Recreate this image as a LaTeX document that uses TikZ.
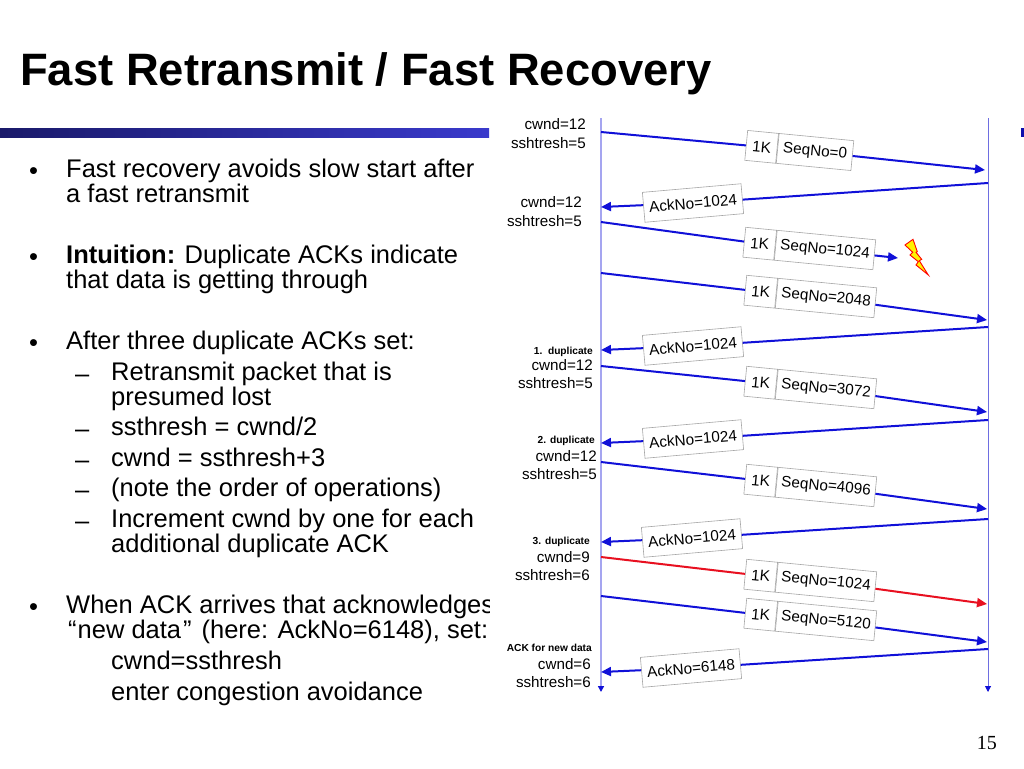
\documentclass[tikz,border=0pt]{standalone}
\usepackage{xcolor}
\usepackage{fontspec}
\usepackage{tikz}
\setmainfont{Liberation Sans}
\newfontfamily\serfont{Liberation Serif}
\usetikzlibrary{arrows.meta}
\definecolor{msgblue}{RGB}{16, 16, 216}
\definecolor{msgred}{RGB}{232, 16, 32}
\definecolor{leftline}{RGB}{165, 165, 240}
\definecolor{rightline}{RGB}{110, 110, 225}
\definecolor{bardark}{RGB}{26, 26, 106}
\definecolor{barlight}{RGB}{58, 58, 204}
\tikzset{
  msgbox/.style={draw=black!35, line width=0.6pt, fill=white, inner sep=0pt, minimum height=30pt, font=\fontsize{15.3}{15.3}\selectfont},
  msg/.style={line width=2pt, -{Triangle[length=10pt,width=9pt]}},
  plainmsg/.style={line width=2pt},
  body/.style={anchor=west, inner sep=0pt, align=left, font=\fontsize{25.5}{25}\selectfont, execute at begin node=\strut, execute at end node=\strut},
  state/.style={anchor=east, inner sep=0pt, align=right, font=\fontsize{15.2}{18.6}\selectfont},
  tag/.style={anchor=east, inner sep=0pt, font=\fontsize{10.2}{12}\selectfont\bfseries}
}

\begin{document}
\begin{tikzpicture}[x=1pt, y=-1pt]
\useasboundingbox[fill=white] (0,0) rectangle (1024,768);
\node[anchor=west, inner sep=0pt, font=\fontsize{45.4}{47}\selectfont\bfseries] (title) at (20,74) {Fast Retransmit / Fast Recovery};
\shade[left color=bardark, right color=barlight] (0,128) rectangle (489,137);
\fill[msgblue!80!black] (1021,128) rectangle (1024,137);

\foreach \y in {174, 260, 346, 610}
  \node[body] (dot\y) at (29,\y) {•};
\foreach \y in {377, 432, 463, 493, 524}
  \node[body] (dash\y) at (75,\y) {–};
\node[body] (fast) at (66,185) {Fast recovery avoids slow start after\\a fast retransmit};
\node[body] (intuition) at (66,271) {\textbf{Intuition:} Duplicate ACKs indicate\\that data is getting through};
\node[body] (after) at (66,344.5) {After three duplicate ACKs set:};
\node[body] (presumed) at (111,388) {Retransmit packet that is\\presumed lost};
\node[body] (halve) at (111,430.5) {ssthresh = cwnd/2};
\node[body] (plus) at (111,461.5) {cwnd = ssthresh+3};
\node[body] (order) at (111,491.5) {(note the order of operations)};
\node[body] (incr) at (111,535) {Increment cwnd by one for each\\additional duplicate ACK};
\node[body] (newack) at (66,621) {When ACK arrives that acknowledges\\\hspace*{2pt}“\hspace{1pt}new data\hspace{2pt}”\hspace{10pt}(here: AckNo=6148), set:};
\node[body] (setcwnd) at (111,664.5) {cwnd=ssthresh};
\node[body] (enter) at (111,695.5) {enter congestion avoidance};
\fill[white] (490,100) rectangle (1021,700);

\coordinate (topl) at (601,118);
\coordinate (botl) at (601,692);
\coordinate (topr) at (988,118);
\coordinate (botr) at (988,692);
\draw[leftline, line width=1.6pt, -{Triangle[length=6pt,width=6pt,color=msgblue]}] (topl) -- (botl);
\draw[rightline, line width=1pt, -{Triangle[length=6pt,width=6pt,color=msgblue]}] (topr) -- (botr);

\foreach \n/\ya/\xb/\yb/\cx/\cy/\w/\lab/\col in {
  1/132/985/170/815/152/75/SeqNo=0/msgblue,
  2/222/898/258/825/250/99/SeqNo=1024/msgblue,
  3/273/987/320/826/298/99/SeqNo=2048/msgblue,
  4/366/987/412/826/389/99/SeqNo=3072/msgblue,
  5/462/987/509/826/487/99/SeqNo=4096/msgblue,
  6/557/987/604/826/582/99/SeqNo=1024/msgred,
  7/596/987/642/826/621/99/SeqNo=5120/msgblue}{
  \coordinate (from\n) at (601,\ya);
  \coordinate (to\n) at (\xb,\yb);
  \node[msgbox, rotate=-5.5, minimum width=\w pt] (seq\n) at (\cx,\cy) {\lab};
  \node[msgbox, rotate=-5.5, anchor=east, minimum width=31pt] (one\n) at (seq\n.west) {1K};
  \draw[plainmsg, \col] (from\n) -- (one\n);
  \draw[msg, \col] (seq\n) -- (to\n);
}

\foreach \n/\ya/\yb/\cx/\cy/\lab in {
  1/183/207/693/203/AckNo=1024,
  2/327/350/693/346/AckNo=1024,
  3/420/443/693/439/AckNo=1024,
  4/519/542/692/538/AckNo=1024,
  5/649/672/691/668/AckNo=6148}{
  \coordinate (ackfrom\n) at (988,\ya);
  \coordinate (ackto\n) at (601,\yb);
  \node[msgbox, rotate=5, minimum width=99pt] (ack\n) at (\cx,\cy) {\lab};
  \draw[plainmsg, msgblue] (ackfrom\n) -- (ack\n);
  \draw[msg, msgblue] (ack\n) -- (ackto\n);
}

\foreach \n/\x/\y/\a/\b in {
  1/586/133.5/cwnd=12/sshtresh=5,
  2/582/211.5/cwnd=12/sshtresh=5,
  3/593/374/cwnd=12/sshtresh=5,
  4/597/465/cwnd=12/sshtresh=5,
  5/590/566/cwnd=9/sshtresh=6,
  6/591/673/cwnd=6/sshtresh=6}
  \node[state] (state\n) at (\x,\y) {\a\\\b};
\foreach \n/\x/\y/\lab in {
  1/593/352/1.~~duplicate,
  2/595/441/2. duplicate,
  3/590/541.5/3. duplicate,
  4/592/648/ACK for new data}
  \node[tag] (tag\n) at (\x,\y) {\lab};

\draw[red, fill=yellow, line width=0.9pt, line join=miter] (905,245) -- (913,239.3) -- (917.3,251.7) -- (916,252.3) -- (921.7,259.3) -- (919.3,260.7) -- (928.3,275) -- (916,265) -- (918.3,261.7) -- (910,255) -- (912.7,252.3) -- cycle;
\node[anchor=east, inner sep=0pt, font=\serfont\fontsize{20}{20}\selectfont] (pageno) at (997,743) {15};
\end{tikzpicture}
\end{document}
